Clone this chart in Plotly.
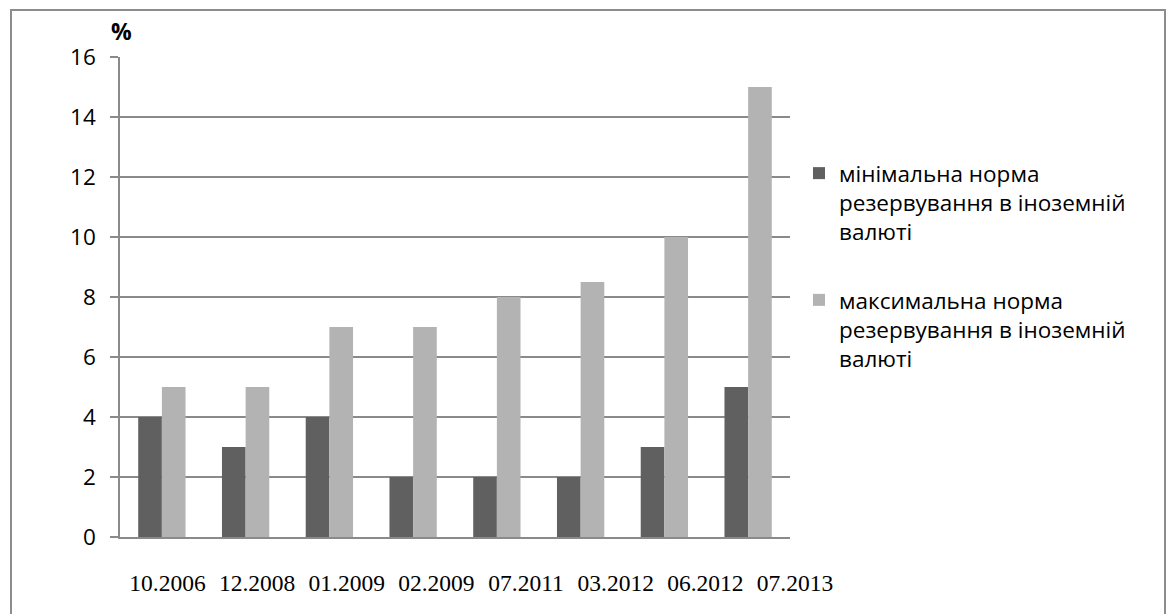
import plotly.graph_objects as go

# Reserve requirement norms for foreign-currency liabilities, %
periods = ["10.2006", "12.2008", "01.2009", "02.2009",
           "07.2011", "03.2012", "06.2012", "07.2013"]
min_rate = [4, 3, 4, 2, 2, 2, 3, 5]
max_rate = [5, 5, 7, 7, 8, 8.5, 10, 15]

series_names = [
    "мінімальна норма<br>резервування в іноземній<br>валюті",
    "максимальна норма<br>резервування в іноземній<br>валюті",
]
dark = "#606060"
light = "#b3b3b3"
grid = "#8a8a8a"

W, H = 1171, 614
ML, MR, MT, MB = 120, 331, 57, 77
plot_w = W - ML - MR          # paper width
plot_h = H - MT - MB          # paper height
bars_w = 670                  # width of the bar area inside the paper

x_idx = list(range(len(periods)))

fig = go.Figure()
fig.add_trace(go.Bar(x=x_idx, y=min_rate, name=series_names[0],
                     marker=dict(color=dark, line=dict(width=0)),
                     legendgroup="a"))
fig.add_trace(go.Bar(x=x_idx, y=max_rate, name=series_names[1],
                     marker=dict(color=light, line=dict(width=0)),
                     legendgroup="b"))
# helper trace carrying the period labels on a separate label axis
fig.add_trace(go.Scatter(x=x_idx, y=[0] * len(periods), xaxis="x2", yaxis="y2",
                         mode="markers", marker=dict(opacity=0),
                         showlegend=False, hoverinfo="skip"))

def px_x(p):
    return (p - ML) / plot_w

def px_y(p):
    return (H - MB - p) / plot_h

fig.update_layout(
    width=W, height=H,
    margin=dict(l=ML, r=MR, t=MT, b=MB, pad=0),
    paper_bgcolor="white", plot_bgcolor="rgba(0,0,0,0)",
    barmode="group", bargap=0.435, bargroupgap=0,
    font=dict(family="Open Sans", color="black"),
    xaxis=dict(domain=[0, bars_w / plot_w], range=[-0.5, 7.5],
               showticklabels=False, showgrid=False, zeroline=False,
               showline=True, linecolor=grid, linewidth=1.5, ticks=""),
    xaxis2=dict(domain=[px_x(122.7), px_x(839.8)], range=[-0.5, 7.5],
                anchor="y2", side="bottom",
                tickmode="array", tickvals=x_idx, ticktext=periods,
                showgrid=False, zeroline=False, showline=False, ticks="",
                ticklabelstandoff=29,
                tickfont=dict(family="Liberation Serif", size=23.5, color="black")),
    yaxis2=dict(domain=[0, 1], range=[0, 16], anchor="x2",
                showgrid=False, zeroline=False, showline=False,
                showticklabels=False, ticks=""),
    yaxis=dict(range=[0, 16], dtick=2, tick0=0,
               showgrid=True, gridcolor=grid, gridwidth=1.5,
               zeroline=False, showline=True, linecolor=grid, linewidth=1.5,
               ticks="outside", ticklen=8, tickcolor=grid, tickwidth=1.5,
               ticklabelstandoff=10,
               tickfont=dict(family="Open Sans", size=22.5, color="black")),
    legend=dict(x=px_x(799), y=px_y(152), xanchor="left", yanchor="top",
                traceorder="grouped", tracegroupgap=36, valign="top",
                font=dict(family="Open Sans", size=22.5, color="black"),
                bgcolor="rgba(0,0,0,0)"),
    showlegend=True,
    annotations=[dict(text="<b>%</b>", xref="paper", yref="paper",
                      x=px_x(121), y=px_y(31), xanchor="center", yanchor="middle",
                      showarrow=False,
                      font=dict(family="Open Sans", size=23, color="black"))],
    shapes=[dict(type="rect", xref="paper", yref="paper",
                 x0=px_x(11), x1=px_x(1165), y0=px_y(630), y1=px_y(10),
                 line=dict(color="#8c8c8c", width=2), fillcolor="rgba(0,0,0,0)",
                 layer="below")],
)

fig.write_html("out.html")
